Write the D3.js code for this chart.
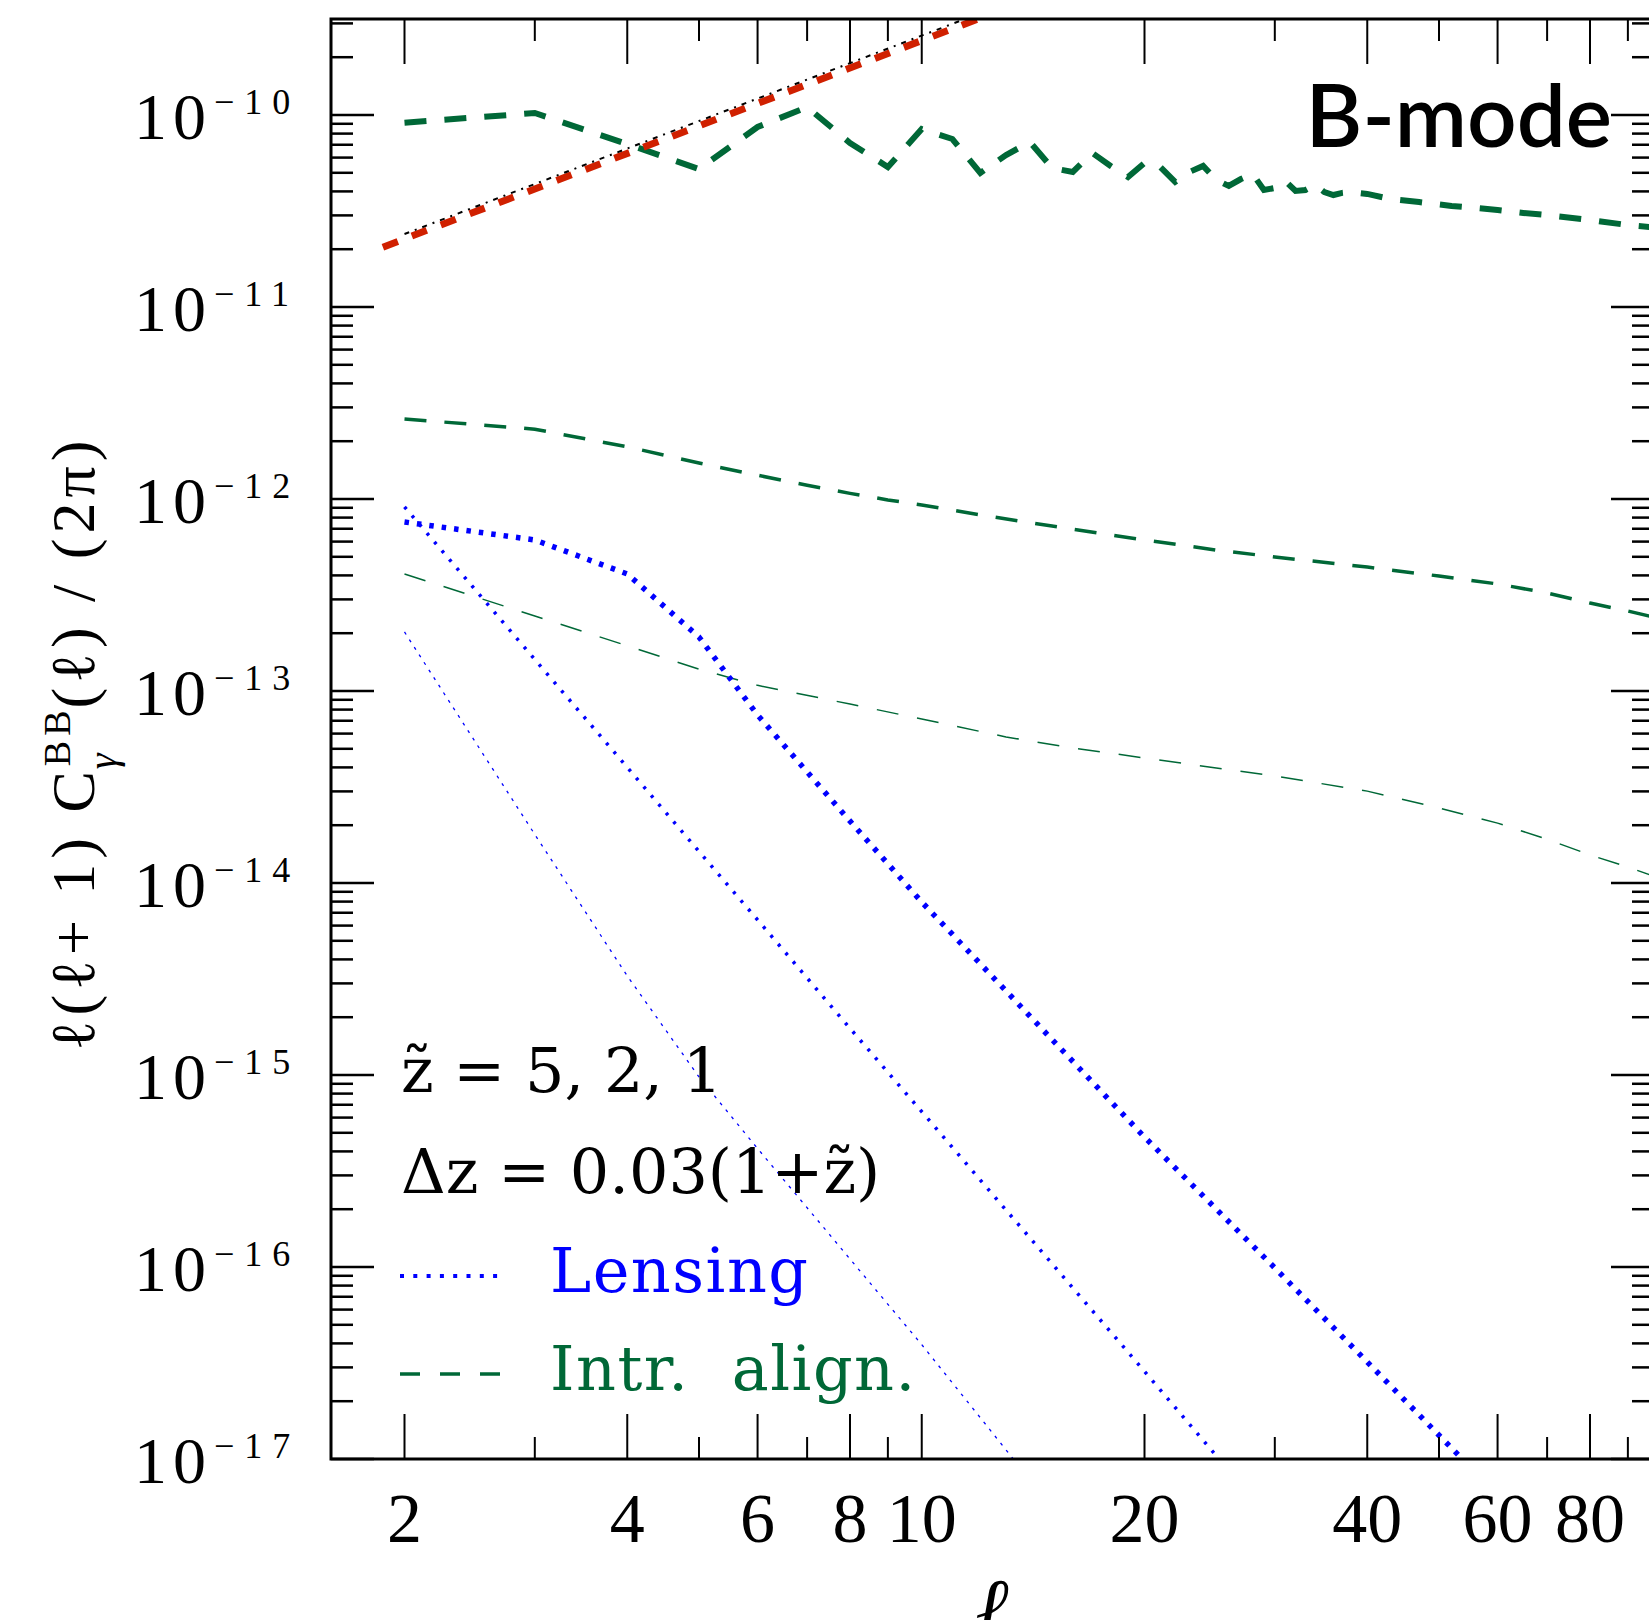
<!DOCTYPE html>
<html><head><meta charset="utf-8">
<script src="https://cdn.jsdelivr.net/npm/d3@7"></script>
<style>body{margin:0;background:#fff;}svg{display:block;}</style>
</head><body>
<svg id="chart" width="1649" height="1620"></svg>
<script>
// ---------------- data ----------------
const xMajorTicks = [2,4,6,8,10,20,40,60,80];
const xMinorTicks = [3,5,7,9,30,50,70,90];
const yDecades = [-17,-16,-15,-14,-13,-12,-11,-10];

// intrinsic alignment, z~ = 5 (thick dashed)
const ellIA5 = [2,3,4,5,6,7,8,9,10,11,12,13,14,15,16,17,18,19,20,21,22,23,24,25,26,27,28,29,30,31,32,33,34,35,36,37,38,40,43,47,52,56,60,65,70,80,90,100];
const IA5 = [9.12e-11,1.024e-10,7.06e-11,5.23e-11,8.66e-11,1.10e-10,7.15e-11,5.36e-11,8.45e-11,7.50e-11,
             4.99e-11,6.19e-11,7.23e-11,5.30e-11,5.05e-11,6.34e-11,5.43e-11,4.75e-11,5.62e-11,5.36e-11,
             4.48e-11,5.05e-11,5.43e-11,4.59e-11,4.27e-11,4.64e-11,4.93e-11,4.07e-11,4.17e-11,4.53e-11,
             4.02e-11,4.07e-11,4.32e-11,3.97e-11,3.83e-11,3.93e-11,3.97e-11,
             3.88e-11,3.65e-11,3.52e-11,3.36e-11,3.28e-11,3.20e-11,3.09e-11,3.01e-11,2.84e-11,2.67e-11,2.58e-11];
// intrinsic alignment, z~ = 2 (medium dashed)
const ellIA2 = [2,3,4,5,6,7,8,9,10,12,15,20,25,30,40,50,60,70,80,90,100];
const IA2 = [2.61e-12,2.31e-12,1.87e-12,1.54e-12,1.33e-12,1.18e-12,1.07e-12,9.89e-13,9.31e-13,8.26e-13,
             7.23e-13,6.12e-13,5.42e-13,4.99e-13,4.42e-13,3.97e-13,3.61e-13,3.24e-13,2.87e-13,2.61e-13,2.37e-13];
// intrinsic alignment, z~ = 1 (thin dashed)
const ellIA1 = [2,3,4,5,6,8,10,13,16,20,25,30,40,50,60,70,80,90,100];
const IA1 = [4.07e-13,2.46e-13,1.72e-13,1.30e-13,1.07e-13,8.55e-14,7.15e-14,5.76e-14,5.05e-14,4.48e-14,
             3.97e-14,3.61e-14,3.01e-14,2.46e-14,2.05e-14,1.69e-14,1.40e-14,1.21e-14,1.05e-14];
// lensing, z~ = 5 (thick dotted)
const ellL5 = [2,3,4,5,6,7,8,10,20,30,40,50,60];
const L5 = [7.59e-13,6.12e-13,4.07e-13,1.91e-13,7.50e-14,3.79e-14,2.10e-14,7.96e-15,4.75e-16,9.89e-17,3.20e-17,1.33e-17,6.49e-18];
// lensing, z~ = 2 (medium dotted)
const ellL2 = [2,3,4,5,6,8,10,15,20,26];
const L2 = [9.09e-13,1.46e-13,4.00e-14,1.46e-14,6.43e-15,1.75e-15,6.44e-16,1.04e-16,2.86e-17,8.7e-18];
// lensing, z~ = 1 (thin dotted)
const ellL1 = [2,3,4,5,6,8,10,12,14];
const L1 = [2.03e-13,1.79e-14,3.28e-15,9.77e-16,4.14e-16,1.10e-16,3.94e-17,1.64e-17,7.8e-18];
// red power law and black reference
const ellRed = [1.87,13];
const redVals = [2.05e-11,3.6e-10];
const ellBlack = [2,13];
const blackVals = [2.40e-11,3.82e-10];

(function(){
// ---------------- layout ----------------
const pL = 331, pR = 1654, pT = 19, pB = 1459;
const green = "#006837", blue = "#0000ff", redCol = "#d02000";

const svg = d3.select("#chart");
const x = d3.scaleLog().domain([2,100]).range([404.5, 404.5 + 740*Math.log10(50)]);
const y = d3.scaleLog().domain([1e-17, Math.pow(10,-9.5)]).range([pB, pT]);

svg.append("defs").append("clipPath").attr("id","clip")
  .append("rect").attr("x",pL).attr("y",pT).attr("width",pR-pL).attr("height",pB-pT);

const g = svg.append("g").attr("clip-path","url(#clip)");
const line = d3.line().x(d=>x(d[0])).y(d=>y(d[1]));
const zip = (a,b)=>a.map((v,i)=>[v,b[i]]);

function draw(ell, vals, color, w, dash){
  g.append("path").attr("d", line(zip(ell,vals))).attr("fill","none")
   .attr("stroke",color).attr("stroke-width",w).attr("stroke-dasharray",dash);
}
draw(ellIA5, IA5, green, 6, "22,18");
draw(ellIA2, IA2, green, 3.5, "22,18");
draw(ellIA1, IA1, green, 1.5, "22,19");
draw(ellL5, L5, blue, 5.5, "4.5,8");
draw(ellL2, L2, blue, 3.5, "3,8.5");
draw(ellL1, L1, blue, 1.3, "3,6");
draw(ellRed, redVals, redCol, 7, "16,15");
draw(ellBlack, blackVals, "#000", 2, "5,6,2,6");

// ---------------- frame & ticks ----------------
const ax = svg.append("g").attr("stroke","#000");
ax.append("rect").attr("x",pL).attr("y",pT).attr("width",pR-pL).attr("height",pB-pT)
  .attr("fill","none").attr("stroke-width",3);
function xt(v,len){
  ax.append("line").attr("x1",x(v)).attr("x2",x(v)).attr("y1",pB).attr("y2",pB-len).attr("stroke-width",2);
  ax.append("line").attr("x1",x(v)).attr("x2",x(v)).attr("y1",pT).attr("y2",pT+len).attr("stroke-width",2);
}
xMajorTicks.forEach(v=>xt(v,45));
xMinorTicks.forEach(v=>xt(v,22));
function yt(v,len){
  ax.append("line").attr("x1",pL).attr("x2",pL+len).attr("y1",y(v)).attr("y2",y(v)).attr("stroke-width",2.5);
  ax.append("line").attr("x1",pR).attr("x2",pR-len).attr("y1",y(v)).attr("y2",y(v)).attr("stroke-width",2.5);
}
yDecades.forEach(e=>{
  yt(Math.pow(10,e),43);
  for(let m=2;m<=9;m++){
    const v = m*Math.pow(10,e);
    if(y(v) >= pT) yt(v,22);
  }
});

// tick labels
const serif = "'Liberation Serif', 'Times New Roman', serif";
xMajorTicks.forEach(v=>{
  svg.append("text").attr("x",x(v)).attr("y",1542).attr("text-anchor","middle")
    .attr("font-family",serif).attr("font-size",70).text(v);
});
yDecades.forEach(e=>{
  const yy = y(Math.pow(10,e));
  svg.append("text").attr("x",134).attr("y",yy+24).attr("font-family",serif)
    .attr("font-size",66).attr("letter-spacing",6).text("10");
  svg.append("text").attr("x",214).attr("y",yy-1).attr("font-family",serif)
    .attr("font-size",36).attr("letter-spacing",10).text("\u2212"+Math.abs(e));
});

// axis titles
svg.append("text").attr("x",992).attr("y",1634).attr("text-anchor","middle")
  .attr("font-family",serif).attr("font-style","italic").attr("font-size",80).text("\u2113");

const yt1 = svg.append("text").attr("transform","translate(94,752) rotate(-90)")
  .attr("font-family",serif).attr("font-size",62).attr("letter-spacing",5);
yt1.append("tspan").text("\u2113(\u2113+ 1) C");
const bb = yt1.append("tspan").attr("font-size",38).attr("dy",-24).text("BB");
const bbw = bb.node().getComputedTextLength();
const gam = yt1.append("tspan").attr("font-size",40).attr("font-style","italic").attr("dx",-bbw-3).attr("dy",46).text("\u03b3");
const gw = gam.node().getComputedTextLength();
yt1.append("tspan").attr("dx",Math.max(0,bbw-gw)).attr("dy",-22).text("(\u2113) / (2\u03c0)");
const tl = yt1.node().getComputedTextLength();
yt1.attr("transform",`translate(94,${731+tl/2}) rotate(-90)`);

// panel label
svg.append("text").attr("x",1612).attr("y",147).attr("text-anchor","end")
  .attr("font-family","Lato, 'Open Sans', sans-serif").attr("font-weight",600).attr("font-size",87).text("B-mode");

// legend block
const lf = "'DejaVu Serif', serif";
svg.append("text").attr("x",401).attr("y",1092).attr("font-family",lf).attr("font-size",62).text("z\u0303 = 5, 2, 1");
svg.append("text").attr("x",401).attr("y",1193).attr("font-family",lf).attr("font-size",62).text("\u0394z = 0.03(1+z\u0303)");
svg.append("line").attr("x1",400).attr("x2",505).attr("y1",1276).attr("y2",1276)
  .attr("stroke",blue).attr("stroke-width",4).attr("stroke-dasharray","4,9.3");
svg.append("text").attr("x",550).attr("y",1292).attr("font-family",lf).attr("font-size",62)
  .attr("letter-spacing",1.5).attr("fill",blue).text("Lensing");
svg.append("line").attr("x1",400).attr("x2",505).attr("y1",1374).attr("y2",1374)
  .attr("stroke",green).attr("stroke-width",3.5).attr("stroke-dasharray","20,20");
svg.append("text").attr("x",550).attr("y",1390).attr("font-family",lf).attr("font-size",62)
  .attr("letter-spacing",1.5).attr("fill",green).style("white-space","pre").text("Intr.  align.");
})();
</script>
</body></html>
